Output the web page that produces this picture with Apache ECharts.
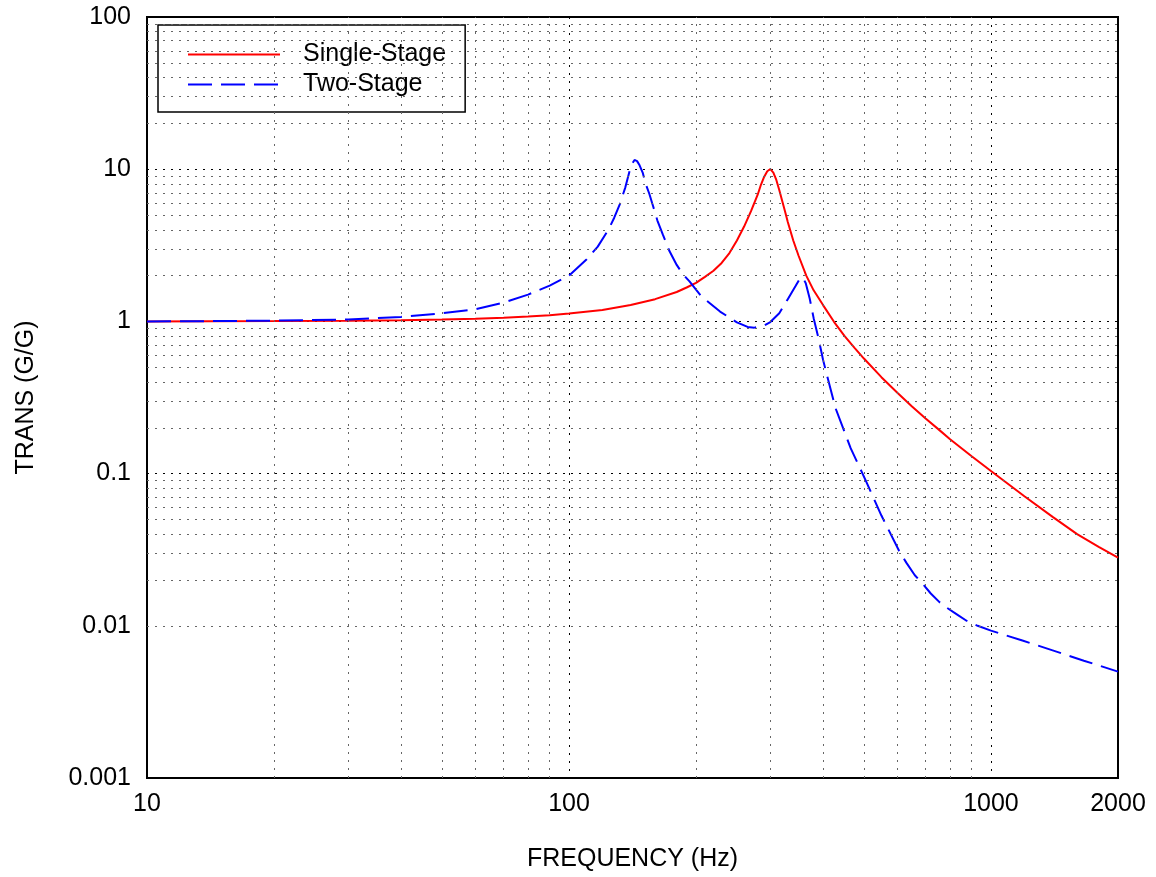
<!DOCTYPE html>
<html>
<head>
<meta charset="utf-8">
<script src="https://cdn.jsdelivr.net/npm/echarts@6/dist/echarts.min.js"></script>
<style>
html,body{margin:0;padding:0;background:#fff;}
#chart{width:1156px;height:877px;}
</style>
</head>
<body>
<div id="chart"></div>
<script>
// ---- data ----
var singleFreq = [10, 20, 30, 40, 50, 60, 70, 80, 90, 100, 120, 140, 160, 180, 190, 200, 210, 220, 230, 240, 250, 260, 270, 280, 285, 290, 295, 300, 305, 310, 315, 320, 325, 330, 340, 350, 365, 380, 400, 425, 450, 475, 500, 550, 600, 650, 700, 750, 800, 900, 1000, 1200, 1400, 1600, 1800, 2000];
var singleVal  = [1.00, 1.005, 1.01, 1.018, 1.029, 1.042, 1.058, 1.077, 1.099, 1.125, 1.19, 1.28, 1.40, 1.56, 1.67, 1.79, 1.96, 2.15, 2.42, 2.81, 3.4, 4.2, 5.3, 6.8, 7.9, 8.9, 9.7, 10.0, 9.5, 8.5, 7.3, 6.2, 5.3, 4.5, 3.4, 2.7, 2.0, 1.6, 1.28, 0.99, 0.80, 0.67, 0.57, 0.43, 0.34, 0.276, 0.230, 0.196, 0.168, 0.130, 0.104, 0.071, 0.052, 0.040, 0.033, 0.028];

var twoFreq = [10, 15, 20, 30, 40, 50, 60, 70, 80, 90, 100, 110, 117, 124, 128, 132, 136, 139, 141, 143, 145, 147, 149.5, 152, 155, 158, 162, 167, 173, 180, 186, 193, 206, 228, 250, 265, 275, 290, 300, 315, 330, 344, 352, 358, 364, 372, 380, 390, 400, 408, 428, 465, 505, 550, 606, 630, 660, 690, 720, 755, 784, 830, 875, 930, 1000, 1187, 1400, 1660, 2000];
var twoVal  = [1.00, 1.005, 1.012, 1.03, 1.07, 1.13, 1.20, 1.33, 1.50, 1.72, 2.0, 2.55, 3.1, 4.0, 4.8, 5.9, 7.6, 9.6, 10.8, 11.5, 11.3, 10.6, 9.5, 8.0, 6.9, 5.8, 4.6, 3.7, 2.9, 2.35, 2.05, 1.83, 1.46, 1.16, 0.985, 0.92, 0.91, 0.94, 0.99, 1.13, 1.40, 1.70, 1.90, 1.95, 1.78, 1.41, 1.05, 0.78, 0.56, 0.45, 0.27, 0.147, 0.090, 0.053, 0.031, 0.026, 0.0215, 0.0188, 0.0163, 0.0143, 0.0132, 0.0119, 0.0108, 0.0100, 0.0093, 0.0080, 0.0069, 0.0059, 0.0050];

var xTickLabels = {10: '10', 100: '100', 1000: '1000', 2000: '2000'};
var yTickLabels = ['0.001', '0.01', '0.1', '1', '10', '100'];
var seriesNames = ['Single-Stage', 'Two-Stage'];

// ---- build ----
function pairs(xs, ys) { return xs.map(function (x, i) { return [x, ys[i]]; }); }

var minorX = [];
[10, 100, 1000].forEach(function (d) {
  for (var k = 2; k <= 9; k++) { if (d * k < 2000) minorX.push(d * k); }
});
var minorY = [];
[0.001, 0.01, 0.1, 1, 10].forEach(function (d) {
  for (var k = 2; k <= 9; k++) minorY.push(+(d * k).toPrecision(3));
});

var FONT = "'Liberation Sans', Arial, sans-serif";
var gridDash = [2, 6];

var chart = echarts.init(document.getElementById('chart'), null, {renderer: 'canvas'});
chart.setOption({
  animation: false,
  backgroundColor: '#fff',
  grid: {left: 147, right: 38, top: 17, bottom: 97, show: true, borderColor: '#000', borderWidth: 2, backgroundColor: 'transparent'},
  legend: {
    data: seriesNames,
    orient: 'vertical',
    left: 158, top: 25,
    backgroundColor: '#fff',
    borderColor: '#000', borderWidth: 1.5, borderRadius: 0,
    padding: [17, 19, 15, 29],
    itemWidth: 92, itemHeight: 24, itemGap: 5,
    selectedMode: false,
    itemStyle: {opacity: 0},
    textStyle: {fontFamily: FONT, fontSize: 25, color: '#000', padding: [0, 0, 0, 18]}
  },
  xAxis: {
    type: 'log', logBase: 10, min: 10, max: 2000,
    name: 'FREQUENCY (Hz)', nameLocation: 'middle', nameGap: 69,
    nameTextStyle: {fontFamily: FONT, fontSize: 25, color: '#000'},
    axisLine: {show: true, lineStyle: {color: '#000', width: 2}},
    axisTick: {show: false},
    axisLabel: {
      fontFamily: FONT, fontSize: 25, color: '#000', margin: 14,
      showMinLabel: true, showMaxLabel: true,
      formatter: function (v) { var r = Math.round(v); return xTickLabels[r] || ''; }
    },
    splitLine: {show: true, lineStyle: {color: '#000', width: 1, type: gridDash}}
  },
  yAxis: {
    type: 'log', logBase: 10, min: 0.001, max: 100,
    name: 'TRANS (G/G)', nameLocation: 'middle', nameGap: 108, nameRotate: 90,
    nameTextStyle: {fontFamily: FONT, fontSize: 25, color: '#000'},
    axisLine: {show: true, lineStyle: {color: '#000', width: 2}},
    axisTick: {show: false},
    axisLabel: {
      fontFamily: FONT, fontSize: 25, color: '#000', margin: 16,
      formatter: function (v) { var i = Math.round(Math.log10(v)) + 3; return yTickLabels[i] || ''; }
    },
    splitLine: {show: true, lineStyle: {color: '#000', width: 1, type: gridDash}}
  },
  series: [
    {
      name: 'minor-grid', type: 'line', data: [], z: 1, silent: true,
      markLine: {
        silent: true, symbol: ['none', 'none'], animation: false,
        label: {show: false},
        lineStyle: {color: '#666', width: 1, type: gridDash},
        emphasis: {disabled: true},
        data: minorX.map(function (x) { return {xAxis: x}; }).concat(minorY.map(function (y) { return {yAxis: y}; }))
      }
    },
    {
      name: seriesNames[0], type: 'line', z: 3, showSymbol: false, symbol: 'none', smooth: false,
      data: pairs(singleFreq, singleVal),
      lineStyle: {color: '#ff0000', width: 2}, itemStyle: {color: '#ff0000'}
    },
    {
      name: seriesNames[1], type: 'line', z: 4, showSymbol: false, symbol: 'none', smooth: false,
      data: pairs(twoFreq, twoVal),
      lineStyle: {color: '#0000ff', width: 2, type: [24, 9]}, itemStyle: {color: '#0000ff'}
    }
  ]
});
</script>
</body>
</html>
